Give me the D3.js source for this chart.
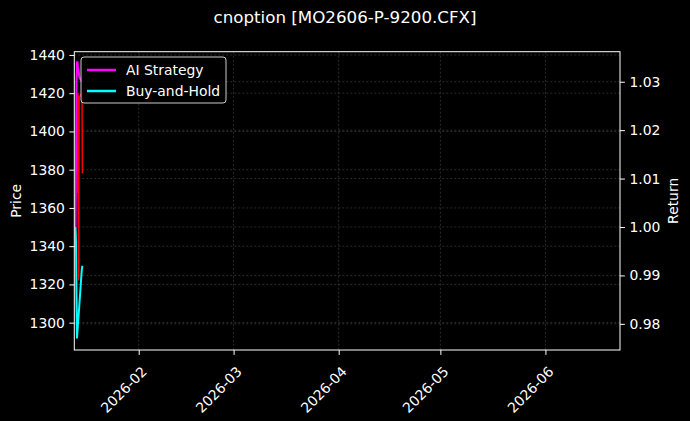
<!DOCTYPE html>
<html lang="en">
<head>
<meta charset="utf-8">
<title>cnoption MO2606-P-9200</title>
<script src="https://d3js.org/d3.v7.min.js"></script>
<style>
  body { margin: 0; background: #000; }
  svg { display: block; font-family: "DejaVu Sans", sans-serif; }
</style>
</head>
<body>
<svg id="chart" width="690" height="421"></svg>
<script>
// data (only the first days are filled)
const times = ["2026-01-13 08:30", "2026-01-13 12:00", "2026-01-13 15:30", "2026-01-13 19:00",
               "2026-01-13 22:30", "2026-01-14 02:00", "2026-01-14 07:50", "2026-01-14 11:30",
               "2026-01-15 05:00", "2026-01-15 09:30"];
const aiStrategy = [1.000, 1.012, 1.030, 1.034, 1.034, 1.033, 1.032, 1.031, 1.030, 1.030];
const buyHold = [1.000, 0.997, 0.985, 0.977, 0.9785, 0.980, 0.9823, 0.9838, 0.9912, 0.992];

const priceTimes = ["2026-01-13 23:20", "2026-01-14 02:00", "2026-01-14 06:30", "2026-01-14 10:40",
                    "2026-01-15 06:30", "2026-01-15 09:20"];
const price = [1368, 1420, 1322, 1418, 1420, 1378];

const xRange = ["2026-01-13 00:00", "2026-06-23 00:00"];
const xTicks = ["2026-02-01", "2026-03-01", "2026-04-01", "2026-05-01", "2026-06-01"];
const priceTicks = [1300, 1320, 1340, 1360, 1380, 1400, 1420, 1440];
const returnTicks = [0.98, 0.99, 1.00, 1.01, 1.02, 1.03];
const priceRange = [1285.7, 1441.7];
const returnRange = [0.9746, 1.0362];

const legendItems = [
  { name: "AI Strategy", color: "#ff00ff" },
  { name: "Buy-and-Hold", color: "#00ffff" }
];

const W = 690, H = 421;
const pLeft = 74.3, pRight = 620, pTop = 51.7, pBottom = 350;

const parseT = d3.timeParse("%Y-%m-%d %H:%M");
const parseD = d3.timeParse("%Y-%m-%d");
const dates = times.map(parseT);
const priceDates = priceTimes.map(parseT);

const svg = d3.select("#chart");
svg.append("rect").attr("width", W).attr("height", H).attr("fill", "#000");

const x = d3.scaleTime().domain(xRange.map(parseT)).range([pLeft, pRight]);
const yP = d3.scaleLinear().domain(priceRange).range([pBottom, pTop]);
const yR = d3.scaleLinear().domain(returnRange).range([pBottom, pTop]);

// grid
const grid = svg.append("g").attr("stroke", "#4a4a4a").attr("stroke-width", 0.6)
  .attr("stroke-dasharray", "2,2");
grid.selectAll(".gx").data(xTicks.map(parseD)).enter().append("line")
  .attr("x1", d => x(d)).attr("x2", d => x(d)).attr("y1", pTop).attr("y2", pBottom);
grid.selectAll(".gp").data(priceTicks).enter().append("line")
  .attr("x1", pLeft).attr("x2", pRight).attr("y1", d => yP(d)).attr("y2", d => yP(d));
grid.selectAll(".gr").data(returnTicks).enter().append("line")
  .attr("x1", pLeft).attr("x2", pRight).attr("y1", d => yR(d)).attr("y2", d => yR(d));

svg.append("clipPath").attr("id", "clip").append("rect")
  .attr("x", pLeft).attr("y", pTop).attr("width", pRight - pLeft).attr("height", pBottom - pTop);

const plot = svg.append("g").attr("clip-path", "url(#clip)");
const lineR = vals => d3.line().x((d, i) => x(dates[i])).y(d => yR(d))(vals);
const lineP = vals => d3.line().x((d, i) => x(priceDates[i])).y(d => yP(d))(vals);

plot.append("path").attr("d", lineR(aiStrategy)).attr("fill", "none")
  .attr("stroke", "#ff00ff").attr("stroke-width", 2);
plot.append("path").attr("d", lineR(buyHold)).attr("fill", "none")
  .attr("stroke", "#00ffff").attr("stroke-width", 2);
plot.append("path").attr("d", lineP(price)).attr("fill", "none")
  .attr("stroke", "#ff0000").attr("stroke-width", 1.5);

// axes
const styleAxis = g => {
  g.selectAll(".domain").remove();
  g.selectAll("line").attr("stroke", "#fff").attr("stroke-width", 1);
  g.selectAll("text").attr("fill", "#fff").attr("font-size", 13.9)
    .attr("font-family", "DejaVu Sans");
};

svg.append("g").attr("transform", `translate(${pLeft},0)`)
  .call(d3.axisLeft(yP).tickValues(priceTicks).tickSize(4.9).tickPadding(4.5).tickFormat(d3.format("d")))
  .call(styleAxis);

svg.append("g").attr("transform", `translate(${pRight},0)`)
  .call(d3.axisRight(yR).tickValues(returnTicks).tickSize(4.9).tickPadding(4.5).tickFormat(d3.format(".2f")))
  .call(styleAxis);

const xa = svg.append("g").attr("transform", `translate(0,${pBottom})`)
  .call(d3.axisBottom(x).tickValues(xTicks.map(parseD)).tickSize(4.9).tickFormat(d3.timeFormat("%Y-%m")))
  .call(styleAxis);
xa.selectAll("text")
  .attr("text-anchor", "end")
  .attr("dy", 0)
  .attr("transform", "translate(3,17) rotate(-45)");

// frame
svg.append("rect").attr("x", pLeft).attr("y", pTop).attr("width", pRight - pLeft)
  .attr("height", pBottom - pTop).attr("fill", "none").attr("stroke", "#fff").attr("stroke-width", 1);

// labels
svg.append("text").attr("x", W / 2).attr("y", 23).attr("text-anchor", "middle")
  .attr("fill", "#fff").attr("font-size", 16.7).text("cnoption [MO2606-P-9200.CFX]");
svg.append("text").attr("transform", `translate(21,${(pTop + pBottom) / 2}) rotate(-90)`)
  .attr("text-anchor", "middle").attr("fill", "#fff").attr("font-size", 13.9).text("Price");
svg.append("text").attr("transform", `translate(678,${(pTop + pBottom) / 2}) rotate(-90)`)
  .attr("text-anchor", "middle").attr("fill", "#fff").attr("font-size", 13.9).text("Return");

// legend
const lg = svg.append("g").attr("transform", "translate(81,57)");
lg.append("rect").attr("width", 145).attr("height", 46).attr("rx", 3)
  .attr("fill", "#000").attr("fill-opacity", 0.8).attr("stroke", "#cccccc").attr("stroke-width", 1);
const li = lg.selectAll(".li").data(legendItems).enter().append("g")
  .attr("transform", (d, i) => `translate(0,${13 + i * 21})`);
li.append("line").attr("x1", 6).attr("x2", 35).attr("stroke", d => d.color).attr("stroke-width", 2.5);
li.append("text").attr("x", 45).attr("y", 5).attr("fill", "#fff").attr("font-size", 13.9)
  .text(d => d.name);
</script>
</body>
</html>
